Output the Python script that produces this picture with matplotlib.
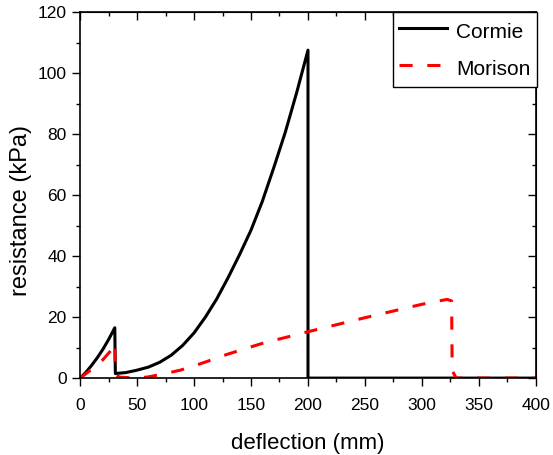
import numpy as np
import matplotlib
matplotlib.use('Agg')
from matplotlib import pyplot as plt

# Cormie curve (deflection mm, resistance kPa)
cormie_x = [0, 5, 10, 15, 20, 25, 30.5, 31, 40, 50, 60, 70, 80, 90, 100, 110, 120,
            130, 140, 150, 160, 170, 180, 190, 200, 200, 400]
cormie_y = [0, 1.8, 4.1, 6.6, 9.4, 12.6, 16.5, 1.5, 1.8, 2.6, 3.6, 5.2, 7.5, 10.7, 14.8,
            20, 26, 33, 40.5, 48.5, 58, 69, 80.5, 93.5, 107.5, 0, 0]

# Morison curve
morison_x = [0, 10, 20, 27, 30.5, 31, 35, 50, 60, 75, 88, 100, 111, 130, 160, 200,
             250, 300, 322, 326, 326.5, 330, 400]
morison_y = [0, 2.8, 6, 9, 11.5, 1.0, 0.3, 0, 0.4, 1.5, 2.6, 4, 5.4, 7.9, 11.4, 15.2,
             19.8, 24.2, 25.8, 25.3, 2.5, 0, 0]

plt.rcParams['font.family'] = ['Liberation Sans', 'DejaVu Sans']

fig = plt.figure(figsize=(5.53, 4.55), dpi=100)
ax = fig.add_axes([0.1447, 0.169, 0.8245, 0.8046])

ax.plot(cormie_x, cormie_y, color='black', lw=2.2, label='Cormie')
ax.plot(morison_x, morison_y, color='red', lw=2.2, dashes=(4.3, 4.8), label='Morison')

ax.set_xlim(0, 400)
ax.set_ylim(0, 120)
ax.set_xticks(np.arange(0, 401, 50))
ax.set_xticks(np.arange(0, 401, 25), minor=True)
ax.set_yticks(np.arange(0, 121, 20))
ax.set_yticks(np.arange(0, 121, 10), minor=True)
ax.tick_params(which='both', direction='out', labelsize=12.5, width=1)
ax.tick_params(which='major', length=6)
ax.tick_params(which='minor', length=3)
ax.tick_params(axis='x', which='major', pad=8)

# top and right ticks point inward
top = ax.secondary_xaxis('top')
top.set_xticks(np.arange(0, 401, 50))
top.set_xticks(np.arange(0, 401, 25), minor=True)
top.tick_params(which='both', direction='in', labeltop=False, width=1)
top.tick_params(which='major', length=6)
top.tick_params(which='minor', length=3)
right = ax.secondary_yaxis('right')
right.set_yticks(np.arange(0, 121, 20))
right.set_yticks(np.arange(0, 121, 10), minor=True)
right.tick_params(which='both', direction='in', labelright=False, width=1)
right.tick_params(which='major', length=6)
right.tick_params(which='minor', length=3)

for s in ax.spines.values():
    s.set_linewidth(1.2)

ax.set_xlabel('deflection (mm)', fontsize=16, labelpad=15)
ax.set_ylabel('resistance (kPa)', fontsize=17)
ax.yaxis.set_label_coords(-0.105, 0.459)

leg = ax.legend(loc='upper right', bbox_to_anchor=(1.002, 1.0), fontsize=15,
                frameon=True, fancybox=False, handlelength=2.3, handleheight=1.5,
                borderaxespad=0, handletextpad=0.43, borderpad=0.3, labelspacing=0.55)
leg.get_frame().set_edgecolor('black')
leg.get_frame().set_linewidth(1.0)
leg.get_frame().set_alpha(1)

fig.savefig('out.png', dpi=100)
